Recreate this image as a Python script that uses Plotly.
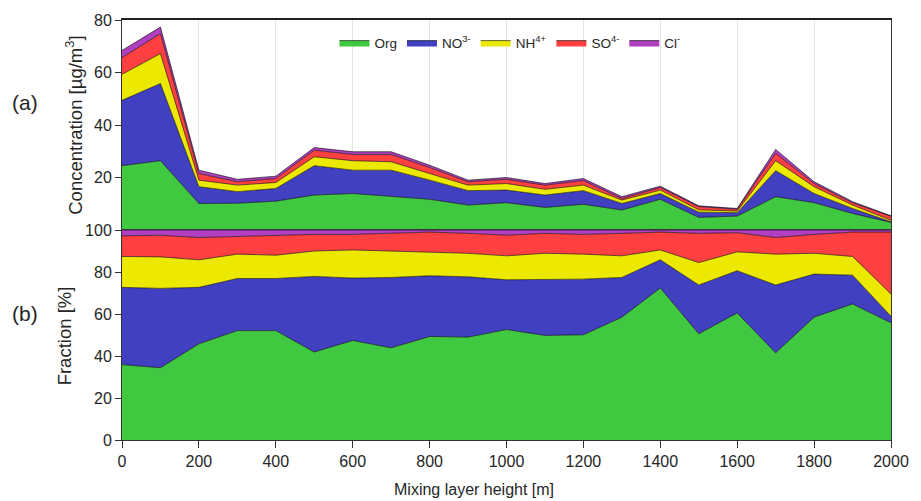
import plotly.graph_objects as go

heights = [0, 100, 200, 300, 400, 500, 600, 700, 800, 900, 1000,
           1100, 1200, 1300, 1400, 1500, 1600, 1700, 1800, 1900, 2000]

# Concentrations [ug/m3] (panel a)
org_conc = [24.5, 26.4, 10.1, 10.2, 11.0, 13.3, 13.9, 12.7, 11.7, 9.5, 10.4,
            8.6, 9.8, 7.6, 11.7, 4.8, 5.3, 12.7, 10.4, 6.3, 2.9]
no3_conc = [24.9, 29.4, 6.4, 4.4, 4.8, 11.2, 8.9, 10.1, 7.3, 5.5, 4.8,
            4.7, 5.2, 2.5, 2.2, 2.0, 1.3, 9.9, 3.5, 1.9, 0.2]
nh4_conc = [9.9, 11.4, 2.5, 2.5, 2.3, 3.4, 3.6, 3.2, 2.5, 2.1, 2.5,
            2.2, 2.1, 1.3, 1.3, 0.9, 0.6, 3.8, 2.6, 1.3, 0.6]
so4_conc = [6.4, 7.6, 2.5, 1.3, 1.5, 2.5, 2.4, 2.8, 2.3, 1.3, 1.6,
            1.6, 1.7, 0.6, 1.0, 1.2, 0.7, 2.8, 1.2, 0.9, 1.5]
cl_conc = [2.7, 2.5, 1.3, 0.9, 0.9, 1.0, 1.0, 1.0, 0.9, 0.6, 0.7,
           0.6, 0.8, 0.7, 0.5, 0.3, 0.3, 1.5, 0.7, 0.4, 0.2]

# Fractions [%] (panel b)
org_frac = [35.9, 34.4, 45.8, 52.1, 52.1, 41.9, 47.4, 43.9, 49.3, 49.0, 52.6,
            49.8, 50.1, 58.5, 72.4, 50.6, 60.5, 41.5, 58.5, 64.8, 55.8]
no3_frac = [36.8, 37.8, 26.9, 24.8, 24.8, 36.0, 29.7, 33.5, 28.9, 28.7, 23.7,
            26.5, 26.5, 18.9, 13.4, 23.2, 20.1, 32.3, 20.5, 13.7, 3.1]
nh4_frac = [14.7, 15.0, 13.1, 11.6, 11.1, 12.1, 13.4, 12.6, 11.4, 11.2, 11.4,
            12.6, 11.9, 10.3, 4.7, 10.7, 9.0, 14.7, 9.9, 8.9, 10.6]
so4_frac = [9.8, 10.3, 10.6, 8.3, 9.2, 7.9, 7.4, 8.4, 9.4, 9.5, 9.8,
            9.5, 9.4, 10.7, 8.5, 13.9, 9.1, 7.9, 9.0, 11.6, 29.5]
cl_frac = [2.8, 2.5, 3.6, 3.2, 2.8, 2.1, 2.1, 1.6, 1.0, 1.6, 2.5,
           1.6, 2.1, 1.6, 1.0, 1.6, 1.3, 3.6, 2.1, 1.0, 1.0]

names = ["Org", "NO<sup>3-</sup>", "NH<sup>4+</sup>", "SO<sup>4-</sup>", "Cl<sup>-</sup>"]
colors = ["#40c840", "#4040c0", "#ece800", "#ff4040", "#b040c0"]
conc = [org_conc, no3_conc, nh4_conc, so4_conc, cl_conc]
frac = [org_frac, no3_frac, nh4_frac, so4_frac, cl_frac]

fig = go.Figure()
for n, c, v in zip(names, colors, conc):
    fig.add_trace(go.Scatter(x=heights, y=v, name=n, stackgroup="a", mode="lines",
                             line=dict(color="black", width=0.6), fillcolor=c,
                             xaxis="x", yaxis="y"))
for n, c, v in zip(names, colors, frac):
    fig.add_trace(go.Scatter(x=heights, y=v, name=n, stackgroup="b", mode="lines",
                             line=dict(color="black", width=0.6), fillcolor=c,
                             xaxis="x2", yaxis="y2", showlegend=False))

axcol = "#333333"
fam = "Liberation Sans, Arial, sans-serif"
font = dict(family=fam, size=16, color="#262626")

L, R, T, B = 122, 22, 17, 61
W, H = 921, 501
pw, ph = W - L - R, H - T - B


def px(x):
    return (x - L) / pw


def py(y):
    return (H - B - y) / ph


fig.update_layout(
    width=W, height=H,
    margin=dict(l=L, r=R, t=T, b=B),
    paper_bgcolor="white", plot_bgcolor="white",
    font=font,
    showlegend=True,
    legend=dict(orientation="h", x=px(514), xanchor="center", y=py(40), yanchor="middle",
                bgcolor="rgba(0,0,0,0)", traceorder="normal", itemwidth=30,
                font=dict(family=fam, size=13.5, color="#262626")),
    xaxis=dict(domain=[0, 1], anchor="y", range=[0, 2000], matches="x2",
               showticklabels=False, ticks="", showgrid=True, gridcolor="#e4e4e4",
               gridwidth=1, dtick=200, showline=True, linecolor="#222222", linewidth=1.5,
               mirror=True, zeroline=False),
    yaxis=dict(domain=[0.5, 1], anchor="x", range=[0, 80], tickvals=[20, 40, 60, 80],
               ticks="outside", ticklen=6, tickcolor=axcol, showline=True, linecolor=axcol,
               mirror=True, showgrid=False, zeroline=False),
    xaxis2=dict(domain=[0, 1], anchor="y2", range=[0, 2000],
                tickvals=[0, 200, 400, 600, 800, 1000, 1200, 1400, 1600, 1800, 2000],
                ticks="outside", ticklen=7, tickcolor=axcol, showline=True, linecolor=axcol,
                mirror=True, showgrid=False, zeroline=False, ticklabeloverflow="allow"),
    yaxis2=dict(domain=[0, 0.5], anchor="x2", range=[0, 100],
                tickvals=[0, 20, 40, 60, 80, 100],
                ticks="outside", ticklen=6, tickcolor=axcol, showline=True, linecolor=axcol,
                mirror=True, showgrid=False, zeroline=False),
)

ytitle_font = dict(family=fam, size=18.5, color="#262626")
fig.add_annotation(text="Concentration [µg/m<sup>3</sup>]", textangle=-90,
                   xref="paper", yref="paper", x=px(74), y=py(123),
                   xanchor="center", yanchor="middle", showarrow=False, font=ytitle_font)
fig.add_annotation(text="Fraction [%]", textangle=-90,
                   xref="paper", yref="paper", x=px(64), y=py(335),
                   xanchor="center", yanchor="middle", showarrow=False, font=ytitle_font)
fig.add_annotation(text="Mixing layer height [m]",
                   xref="paper", yref="paper", x=px(478), y=py(490),
                   xanchor="center", yanchor="middle", showarrow=False,
                   font=dict(family=fam, size=16, color="#262626"))
panel_font = dict(family=fam, size=21, color="#262626")
fig.add_annotation(text="(a)", xref="paper", yref="paper", x=px(24),
                   y=py(100), xanchor="center", yanchor="middle",
                   showarrow=False, font=panel_font)
fig.add_annotation(text="(b)", xref="paper", yref="paper", x=px(24),
                   y=py(313), xanchor="center", yanchor="middle",
                   showarrow=False, font=panel_font)

fig.write_html("out.html")
